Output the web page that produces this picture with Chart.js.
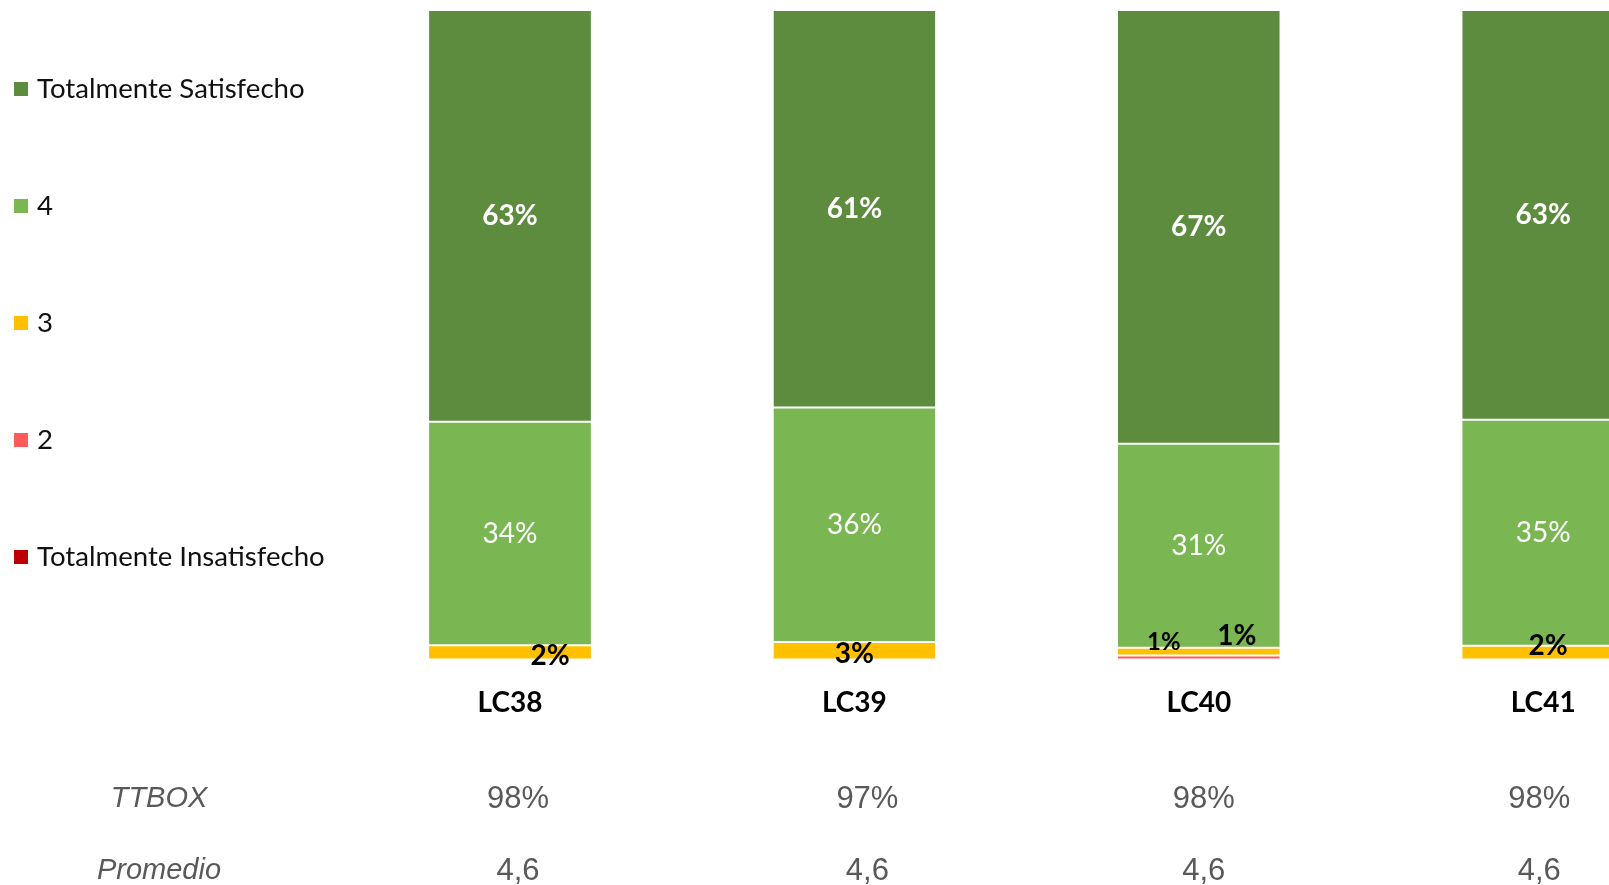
<!DOCTYPE html>
<html><head><meta charset="utf-8">
<script src="https://cdn.jsdelivr.net/npm/chart.js@4.4.1/dist/chart.umd.min.js"></script>
<style>
html,body{margin:0;padding:0;background:#fff;overflow:hidden;width:1609px;height:885px}
#wrap{position:absolute;left:0;top:0;width:1720px;height:885px}
</style></head><body>
<div id="wrap"><canvas id="c" width="1720" height="885"></canvas></div>
<script>
// ---- data ----
const categories = ['LC38', 'LC39', 'LC40', 'LC41'];
const totalmenteSatisfecho = [63.4, 61.2, 66.8, 63.1];
const nivel4 = [34.4, 36.1, 31.4, 34.8];
const nivel3 = [2.2, 2.7, 1.2, 2.1];
const nivel2 = [0, 0, 0.6, 0];
const totalmenteInsatisfecho = [0, 0, 0, 0];
const ttbox = [98, 97, 98, 98];
const promedio = [4.6, 4.6, 4.6, 4.6];
const rowLabels = ['TTBOX', 'Promedio'];

// ---- styles / layout ----
const SANS = 'Lato, "Noto Sans", sans-serif';
const TABLE_FONT = '"Liberation Sans", Arial, sans-serif';
const labelStyle = {
  'Totalmente Satisfecho': {color: '#fff', weight: 'bold', size: 28},
  '4': {color: '#fff', weight: 'normal', size: 28},
  '3': {color: '#000', weight: 'bold', size: 28},
  '2': {color: '#000', weight: 'bold', size: 24},
  'Totalmente Insatisfecho': {color: '#000', weight: 'bold', size: 24}
};
// manual label nudges (dx, dy) per series label and category index
const labelNudge = {
  '3': [[40, 4], [0, 3], [38, -16], [5, -7]],
  '2': [[0, 0], [0, 0], [-35, -15], [0, 0]]
};
const tableXNudge = [8, 13, 5, -4];

const dataLabels = {
  id: 'dataLabels',
  afterDatasetsDraw(chart) {
    const ctx = chart.ctx;
    chart.data.datasets.forEach((ds, di) => {
      const meta = chart.getDatasetMeta(di);
      const st = labelStyle[ds.label];
      meta.data.forEach((el, i) => {
        const v = ds.data[i];
        if (!v) return;
        const p = el.getProps(['x', 'y', 'base'], true);
        let x = p.x, y = (p.y + p.base) / 2;
        const n = labelNudge[ds.label];
        if (n) { x += n[i][0]; y += n[i][1]; }
        ctx.save();
        ctx.font = st.weight + ' ' + st.size + 'px ' + SANS;
        ctx.fillStyle = st.color;
        ctx.textAlign = 'center';
        ctx.textBaseline = 'middle';
        ctx.fillText(Math.round(v) + '%', x, y);
        ctx.restore();
      });
    });
  }
};

const sideLegend = {
  id: 'sideLegend',
  afterDraw(chart) {
    const ctx = chart.ctx;
    const items = chart.data.datasets.slice().reverse();
    ctx.save();
    items.forEach((ds, i) => {
      const cy = 89 + i * 117;
      ctx.fillStyle = ds.backgroundColor;
      ctx.fillRect(14, cy - 7, 14, 14);
      ctx.fillStyle = '#111';
      ctx.font = '27.6px ' + SANS;
      ctx.textAlign = 'left';
      ctx.textBaseline = 'middle';
      ctx.fillText(ds.label, 37, cy);
    });
    ctx.restore();
  }
};

const bottomTable = {
  id: 'bottomTable',
  afterDraw(chart) {
    const ctx = chart.ctx;
    const xs = chart.scales.x;
    const rows = [
      {y: 799, label: rowLabels[0], vals: ttbox.map(v => v + '%')},
      {y: 871, label: rowLabels[1], vals: promedio.map(v => v.toFixed(1).replace('.', ','))}
    ];
    ctx.save();
    ctx.fillStyle = '#595959';
    ctx.textBaseline = 'middle';
    ctx.textAlign = 'center';
    rows.forEach(r => {
      ctx.font = 'italic 29px ' + TABLE_FONT;
      ctx.fillText(r.label, 159, r.y);
      ctx.font = '31px ' + TABLE_FONT;
      r.vals.forEach((t, i) => {
        ctx.fillText(t, xs.getPixelForValue(i) + tableXNudge[i], r.y);
      });
    });
    ctx.restore();
  }
};

function draw() {
  new Chart(document.getElementById('c'), {
    type: 'bar',
    data: {
      labels: categories,
      datasets: [
        {label: 'Totalmente Insatisfecho', data: totalmenteInsatisfecho, backgroundColor: '#C00000'},
        {label: '2', data: nivel2, backgroundColor: '#FF5B5B'},
        {label: '3', data: nivel3, backgroundColor: '#FFC000'},
        {label: '4', data: nivel4, backgroundColor: '#7AB652'},
        {label: 'Totalmente Satisfecho', data: totalmenteSatisfecho, backgroundColor: '#5E8C3F'}
      ]
    },
    options: {
      responsive: false,
      animation: false,
      layout: {padding: {left: 337.8, right: 4.6, top: 10, bottom: 138.9}},
      datasets: {bar: {categoryPercentage: 1, barPercentage: 0.47, borderColor: '#fff',
        borderWidth: {top: 1, bottom: 1, left: 0, right: 0}, borderSkipped: false}},
      scales: {
        x: {stacked: true, grid: {display: false, drawTicks: false}, border: {display: false},
            ticks: {color: '#000', padding: 26.5, font: {family: SANS, size: 28, weight: 'bold'}}},
        y: {stacked: true, display: false, min: 0, max: 100}
      },
      plugins: {legend: {display: false}, tooltip: {enabled: false}}
    },
    plugins: [dataLabels, sideLegend, bottomTable]
  });
}
const fontsToLoad = ['28px Lato', 'bold 28px Lato', '28px "Liberation Sans"', 'italic 28px "Liberation Sans"'];
Promise.all(fontsToLoad.map(f => document.fonts.load(f))).then(draw, draw);
</script>
</body></html>
